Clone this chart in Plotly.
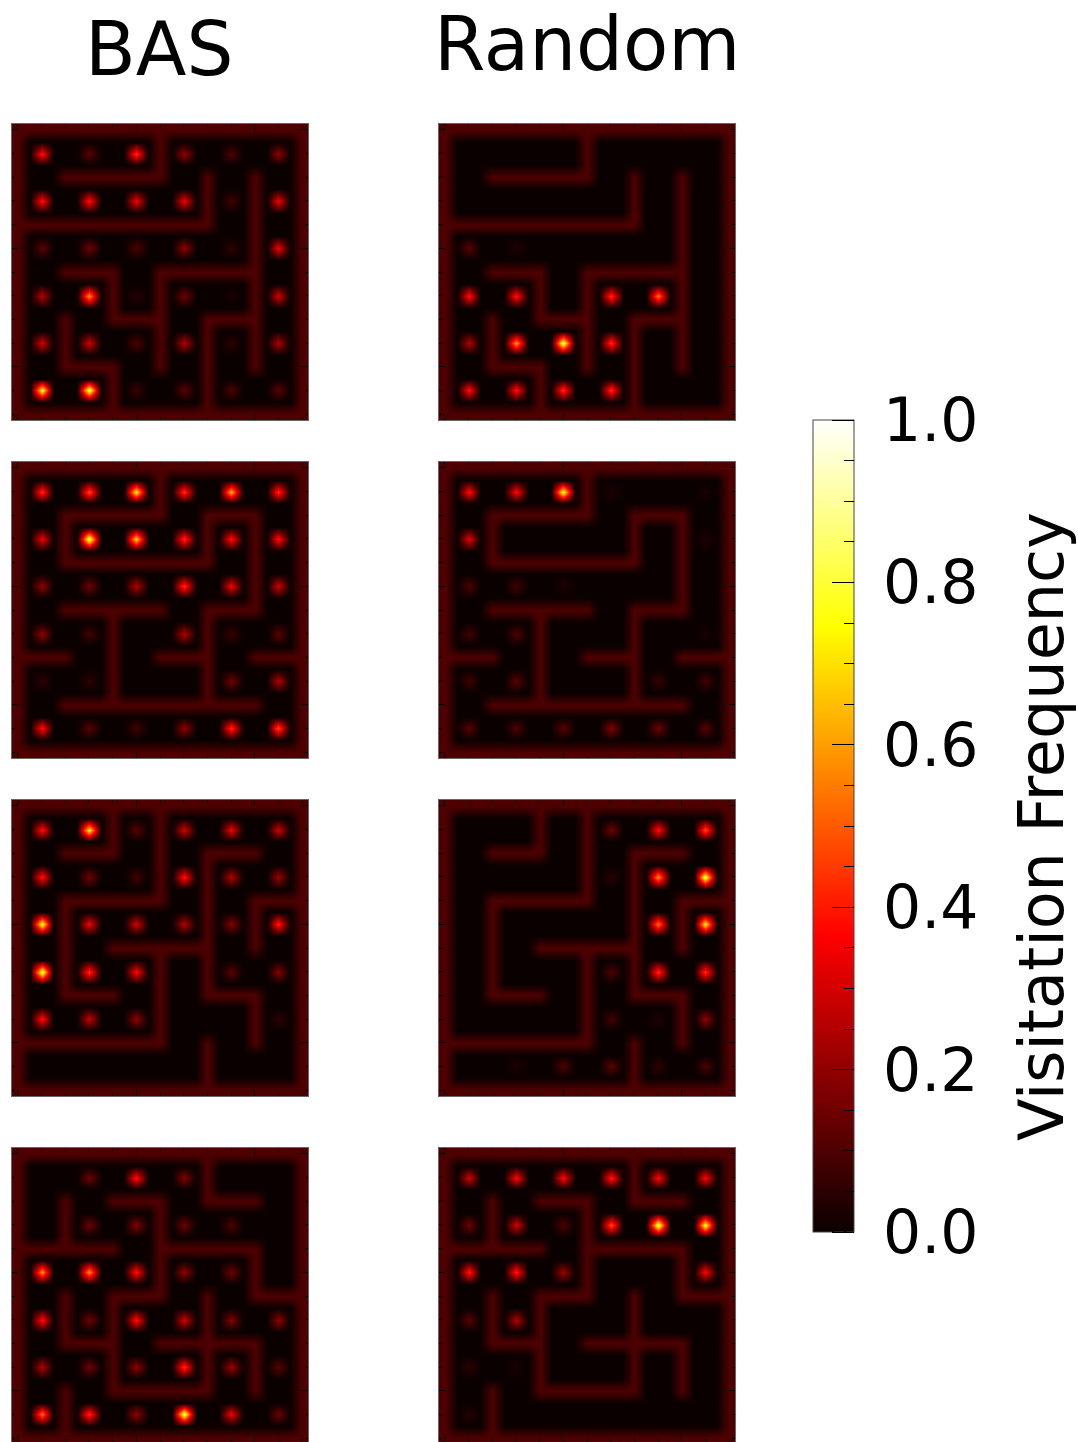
import numpy as np
import plotly.graph_objects as go

# ---------------------------------------------------------------------------
# Maze geometry: 6x6 cells on a 25x25 raster (walls on every 4th row/column,
# cell centres at 2 + 4*i). Wall segments are given in node units:
#   ("h", row_node, col_from, col_to)  /  ("v", col_node, row_from, row_to)
# ---------------------------------------------------------------------------
N_CELLS = 6
CELL_PX = 4
SIZE = N_CELLS * CELL_PX + 1
WALL_LEVEL = 0.10

column_titles = ["BAS", "Random"]
colorbar_title = "Visitation Frequency"

maze_a_walls = [
    ("h", 1, 1, 3), ("v", 3, 0, 1), ("h", 2, 0, 4), ("v", 4, 1, 2),
    ("v", 5, 1, 5), ("h", 3, 1, 2), ("v", 2, 3, 4), ("h", 4, 2, 3),
    ("h", 3, 3, 5), ("v", 3, 3, 5), ("v", 1, 4, 5), ("h", 5, 1, 2),
    ("v", 2, 5, 6), ("h", 4, 4, 5), ("v", 4, 4, 6),
]
maze_b_walls = [
    ("v", 3, 0, 1), ("h", 1, 1, 3), ("v", 1, 1, 2), ("h", 2, 1, 4),
    ("v", 4, 1, 2), ("h", 1, 4, 5), ("v", 5, 1, 3), ("h", 3, 4, 5),
    ("v", 4, 3, 5), ("h", 3, 1, 3), ("v", 2, 3, 5), ("h", 4, 0, 1),
    ("h", 4, 3, 4), ("h", 4, 5, 6), ("h", 5, 1, 5),
]
maze_c_walls = [
    ("v", 2, 0, 1), ("h", 1, 1, 2), ("v", 3, 0, 2), ("h", 2, 1, 3),
    ("v", 1, 2, 4), ("h", 4, 1, 2), ("h", 1, 4, 5), ("v", 4, 1, 4),
    ("h", 4, 4, 5), ("v", 5, 4, 5), ("h", 3, 2, 4), ("v", 3, 3, 5),
    ("h", 5, 0, 3), ("h", 2, 5, 6), ("v", 5, 2, 3), ("v", 4, 5, 6),
]
maze_d_walls = [
    ("v", 4, 0, 1), ("h", 1, 4, 5), ("v", 1, 1, 2), ("h", 2, 0, 2),
    ("h", 1, 2, 3), ("v", 3, 1, 3), ("h", 2, 3, 5), ("v", 5, 2, 3),
    ("h", 3, 5, 6), ("h", 3, 2, 3), ("v", 2, 3, 5), ("h", 5, 2, 4),
    ("v", 4, 3, 5), ("v", 1, 3, 4), ("h", 4, 1, 2), ("h", 4, 3, 5),
    ("v", 5, 4, 5), ("v", 1, 5, 6),
]

# Visitation frequency per cell (rows top to bottom, columns left to right)
bas_maze_a = [
    [0.40, 0.12, 0.45, 0.20, 0.10, 0.20],
    [0.40, 0.40, 0.35, 0.35, 0.08, 0.35],
    [0.12, 0.15, 0.10, 0.20, 0.05, 0.35],
    [0.25, 0.60, 0.04, 0.15, 0.02, 0.30],
    [0.30, 0.30, 0.10, 0.25, 0.05, 0.25],
    [0.80, 0.85, 0.07, 0.12, 0.10, 0.12],
]
random_maze_a = [
    [0.00, 0.00, 0.00, 0.00, 0.00, 0.00],
    [0.00, 0.00, 0.00, 0.00, 0.00, 0.00],
    [0.12, 0.03, 0.00, 0.00, 0.00, 0.00],
    [0.40, 0.40, 0.00, 0.45, 0.55, 0.00],
    [0.25, 0.60, 0.85, 0.45, 0.00, 0.00],
    [0.40, 0.40, 0.45, 0.45, 0.00, 0.00],
]
bas_maze_b = [
    [0.45, 0.50, 0.75, 0.45, 0.65, 0.45],
    [0.35, 0.85, 0.70, 0.45, 0.40, 0.40],
    [0.20, 0.15, 0.25, 0.45, 0.35, 0.30],
    [0.20, 0.08, 0.00, 0.25, 0.07, 0.12],
    [0.05, 0.05, 0.00, 0.00, 0.15, 0.25],
    [0.40, 0.12, 0.08, 0.20, 0.45, 0.50],
]
random_maze_b = [
    [0.40, 0.38, 0.80, 0.03, 0.00, 0.02],
    [0.33, 0.00, 0.00, 0.00, 0.00, 0.03],
    [0.10, 0.08, 0.03, 0.00, 0.00, 0.00],
    [0.08, 0.10, 0.00, 0.00, 0.00, 0.02],
    [0.08, 0.12, 0.00, 0.00, 0.06, 0.08],
    [0.12, 0.10, 0.12, 0.18, 0.15, 0.12],
]
bas_maze_c = [
    [0.40, 0.75, 0.12, 0.30, 0.35, 0.30],
    [0.40, 0.15, 0.08, 0.40, 0.25, 0.22],
    [0.80, 0.35, 0.30, 0.25, 0.18, 0.42],
    [0.85, 0.45, 0.38, 0.00, 0.12, 0.18],
    [0.40, 0.28, 0.20, 0.00, 0.00, 0.05],
    [0.00, 0.00, 0.00, 0.00, 0.00, 0.00],
]
random_maze_c = [
    [0.00, 0.00, 0.00, 0.15, 0.40, 0.50],
    [0.00, 0.00, 0.00, 0.04, 0.60, 0.85],
    [0.00, 0.00, 0.00, 0.00, 0.55, 0.75],
    [0.00, 0.00, 0.00, 0.10, 0.45, 0.45],
    [0.00, 0.00, 0.00, 0.08, 0.03, 0.20],
    [0.00, 0.03, 0.10, 0.12, 0.05, 0.10],
]
bas_maze_d = [
    [0.00, 0.15, 0.40, 0.18, 0.00, 0.00],
    [0.00, 0.15, 0.18, 0.15, 0.10, 0.00],
    [0.60, 0.60, 0.40, 0.20, 0.15, 0.00],
    [0.40, 0.15, 0.40, 0.30, 0.18, 0.20],
    [0.25, 0.15, 0.20, 0.45, 0.22, 0.12],
    [0.55, 0.45, 0.20, 0.85, 0.35, 0.15],
]
random_maze_d = [
    [0.30, 0.38, 0.38, 0.42, 0.38, 0.38],
    [0.15, 0.30, 0.10, 0.50, 0.85, 0.80],
    [0.42, 0.42, 0.22, 0.00, 0.00, 0.38],
    [0.12, 0.25, 0.00, 0.00, 0.00, 0.00],
    [0.05, 0.02, 0.00, 0.00, 0.00, 0.00],
    [0.04, 0.00, 0.00, 0.00, 0.00, 0.00],
]

# one row per maze: (walls, BAS frequencies, Random frequencies)
rows = [
    (maze_a_walls, bas_maze_a, random_maze_a),
    (maze_b_walls, bas_maze_b, random_maze_b),
    (maze_c_walls, bas_maze_c, random_maze_c),
    (maze_d_walls, bas_maze_d, random_maze_d),
]


def maze_raster(walls, freqs):
    """Rasterise outer border, inner walls and cell frequencies."""
    z = np.zeros((SIZE, SIZE))
    border = [("h", 0, 0, N_CELLS), ("h", N_CELLS, 0, N_CELLS),
              ("v", 0, 0, N_CELLS), ("v", N_CELLS, 0, N_CELLS)]
    for kind, fixed, a, b in border + list(walls):
        lo, hi = CELL_PX * a, CELL_PX * b
        if kind == "h":
            z[CELL_PX * fixed, lo:hi + 1] = WALL_LEVEL
        else:
            z[lo:hi + 1, CELL_PX * fixed] = WALL_LEVEL
    f = np.asarray(freqs, dtype=float)
    centres = CELL_PX // 2 + CELL_PX * np.arange(N_CELLS)
    z[np.ix_(centres, centres)] = f
    return z


# matplotlib "hot" colormap
hot = [
    [0.0, "rgb(11,0,0)"],
    [0.365079, "rgb(255,0,0)"],
    [0.746032, "rgb(255,255,0)"],
    [1.0, "rgb(255,255,255)"],
]

# ---------------------------------------------------------------------------
# Page geometry (pixels)
# ---------------------------------------------------------------------------
W, H = 1078, 1442
PANEL = 296
col_left = [12, 439]
row_top = [124, 462, 800, 1148]
px_per_unit = PANEL / SIZE

# panel k (1-based) -> colour axis; all share one scale, the extra two only
# carry the long/short tick marks of the colour bar
axis_of_panel = {7: "coloraxis3", 8: "coloraxis2"}

fig = go.Figure()
layout_axes = {}
coords = np.arange(SIZE)
k = 0
for r, (walls, bas, rnd) in enumerate(rows):
    for c, freqs in enumerate([bas, rnd]):
        k += 1
        z = maze_raster(walls, freqs)
        top = row_top[r]
        bottom = min(top + PANEL, H)
        left = col_left[c]
        y_lo = -0.5 + (bottom - top) / px_per_unit
        fig.add_trace(go.Heatmap(
            z=z, x=coords, y=coords, zsmooth="best",
            coloraxis=axis_of_panel.get(k, "coloraxis"),
            xaxis=f"x{k}", yaxis=f"y{k}", hoverinfo="skip",
        ))
        axis_common = dict(
            showgrid=False, zeroline=False, showticklabels=False,
            showline=True, linecolor="#666666", linewidth=1, mirror="ticks",
            ticks="inside", tickvals=[0, 10, 20], ticklen=6, tickwidth=1,
            tickcolor="black",
            minor=dict(ticks="inside", tick0=0, dtick=2, ticklen=3,
                       tickwidth=1, tickcolor="black", showgrid=False),
        )
        layout_axes[f"xaxis{k}"] = dict(
            axis_common, domain=[left / W, (left + PANEL) / W],
            range=[-0.5, SIZE - 0.5], anchor=f"y{k}",
        )
        layout_axes[f"yaxis{k}"] = dict(
            axis_common, domain=[1 - bottom / H, 1 - top / H],
            range=[y_lo, -0.5], anchor=f"x{k}",
        )

# colour bar: value 1.0 at y=420 px, 0.0 at y=1232 px; bar spans x 813..854
cb_top, cb_bottom = 420, 1232
cb_left, cb_right = 813, 854
cb_len = cb_bottom - cb_top
cb_y = 1 - (cb_top + cb_bottom) / 2 / H
tick_major = [round(0.2 * i, 1) for i in range(6)]
tick_minor = [round(0.05 * i, 2) for i in range(21)]
MAJOR_LEN, MINOR_LEN = 22, 10


def tick_bar(vals, length):
    """Zero-width colour bar whose outward ticks end on the bar's right edge."""
    return dict(
        x=(cb_right - length) / W, xanchor="left", xpad=0, ypad=0,
        y=cb_y, yanchor="middle", len=cb_len, lenmode="pixels",
        thickness=0, outlinewidth=0,
        tickmode="array", tickvals=vals,
        ticks="outside", ticklen=length, tickwidth=1, tickcolor="black",
        showticklabels=False,
    )


fig.update_layout(
    width=W, height=H,
    margin=dict(l=0, r=0, t=0, b=0, autoexpand=False),
    paper_bgcolor="white", plot_bgcolor="white",
    font=dict(family="DejaVu Sans", color="black"),
    coloraxis=dict(
        colorscale=hot, cmin=0, cmax=1,
        colorbar=dict(
            x=cb_left / W, xanchor="left", xpad=0, ypad=0,
            y=cb_y, yanchor="middle", len=cb_len, lenmode="pixels",
            thickness=cb_right - cb_left, outlinewidth=1,
            outlinecolor="#444444",
            tickmode="array", tickvals=tick_major,
            ticktext=[f"{v:.1f}" for v in tick_major],
            ticks="outside", ticklen=17, tickcolor="rgba(0,0,0,0)",
            tickfont=dict(size=60, family="DejaVu Sans", color="black"),
        ),
    ),
    coloraxis2=dict(colorscale=hot, cmin=0, cmax=1,
                    colorbar=tick_bar(tick_minor, MINOR_LEN)),
    coloraxis3=dict(colorscale=hot, cmin=0, cmax=1,
                    colorbar=tick_bar(tick_major, MAJOR_LEN)),
    **layout_axes,
)

fig.add_annotation(
    text=colorbar_title, x=1041 / W, y=1 - 827 / H,
    xref="paper", yref="paper", xanchor="center", yanchor="middle",
    textangle=-90, showarrow=False,
    font=dict(size=62, family="DejaVu Sans", color="black"),
)

title_pos = [(159, 49), (587, 44)]
for text, (tx, ty) in zip(column_titles, title_pos):
    fig.add_annotation(
        text=text, x=tx / W, y=1 - ty / H, xref="paper", yref="paper",
        xanchor="center", yanchor="middle", showarrow=False,
        font=dict(size=74, family="DejaVu Sans", color="black"),
    )

fig.write_html("out.html")
